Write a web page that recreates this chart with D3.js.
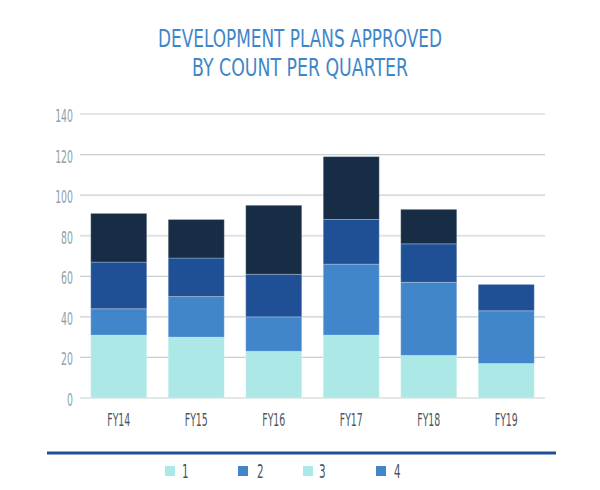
<!DOCTYPE html>
<html>
<head>
<meta charset="utf-8">
<script src="https://cdn.jsdelivr.net/npm/d3@7"></script>
<style>
  html, body { margin: 0; padding: 0; background: #ffffff; }
  svg { display: block; }
  text { font-family: "DejaVu Sans", "Roboto", sans-serif; }
</style>
</head>
<body>
<svg id="chart" width="600" height="490"></svg>
<script>
const titleLines = ["DEVELOPMENT PLANS APPROVED", "BY COUNT PER QUARTER"];
const categories = ["FY14", "FY15", "FY16", "FY17", "FY18", "FY19"];
const seriesNames = ["1", "2", "3", "4"];
const series1 = [31, 30, 23, 31, 21, 17];
const series2 = [13, 20, 17, 35, 36, 26];
const series3 = [23, 19, 21, 22, 19, 13];
const series4 = [24, 19, 34, 31, 17, 0];
const yTicks = [0, 20, 40, 60, 80, 100, 120, 140];
const barColors = ["#ace8e5", "#4186cb", "#1f5096", "#172d46"];
const legendColors = ["#ace8e5", "#4186cb", "#ace8e5", "#4186cb"];

const NARROW = "scale(0.52,1)";
const svg = d3.select("#chart");

// Title
svg.append("g").selectAll("text")
  .data(titleLines)
  .join("text")
  .attr("x", 300)
  .attr("y", (d, i) => 47 + i * 29)
  .attr("text-anchor", "middle")
  .attr("fill", "#3f86c9")
  .attr("font-size", 24)
  .attr("textLength", (d, i) => i === 0 ? 284 : 216)
  .attr("lengthAdjust", "spacingAndGlyphs")
  .text(d => d);

const x = d3.scaleBand().domain(categories).range([80, 545]).paddingInner(0.277).paddingOuter(0.1385);
const y = d3.scaleLinear().domain([0, 140]).range([398, 114]);

// Grid
svg.append("g").selectAll("line")
  .data(yTicks)
  .join("line")
  .attr("x1", 80).attr("x2", 545)
  .attr("y1", d => y(d)).attr("y2", d => y(d))
  .attr("stroke", d => d === 80 ? "#dfe3e6" : "#c6d0d0")
  .attr("stroke-width", d => d === 80 ? 2 : 1.2);

// Y axis labels
const yAxis = d3.axisLeft(y).tickValues(yTicks).tickSize(0).tickPadding(0);
const yg = svg.append("g").attr("transform", "translate(73,0)").call(yAxis);
yg.select(".domain").remove();
yg.selectAll("text")
  .attr("font-size", 18)
  .attr("fill", "#8ea2a6")
  .attr("dy", "0.42em")
  .attr("font-family", "'DejaVu Sans', sans-serif")
  .attr("transform", NARROW);

// Stacked data
const rows = categories.map((c, i) => ({cat: c, "1": series1[i], "2": series2[i], "3": series3[i], "4": series4[i]}));
const stack = d3.stack().keys(seriesNames)(rows);

svg.append("g").selectAll("g")
  .data(stack)
  .join("g")
  .attr("fill", (d, i) => barColors[i])
  .selectAll("rect")
  .data(d => d.filter(p => p[1] - p[0] > 0))
  .join("rect")
  .attr("x", d => x(d.data.cat))
  .attr("width", x.bandwidth())
  .attr("y", d => y(d[1]))
  .attr("height", d => y(d[0]) - y(d[1]))
  .attr("stroke", "rgba(255,255,255,0.25)")
  .attr("stroke-width", 1);

// X axis labels
const xAxis = d3.axisBottom(x).tickSize(0).tickPadding(0);
const xg = svg.append("g").attr("transform", "translate(0,426)").call(xAxis);
xg.select(".domain").remove();
xg.selectAll("text")
  .attr("font-size", 18)
  .attr("fill", "#4b5661")
  .attr("dy", 0)
  .attr("font-family", "'DejaVu Sans', sans-serif")
  .attr("transform", NARROW);

// Bottom rule
svg.append("line")
  .attr("x1", 47).attr("x2", 556)
  .attr("y1", 453).attr("y2", 453)
  .attr("stroke", "#1f5096").attr("stroke-width", 3);

// Legend
const legendSquareX = [165, 238, 303, 376];
const legendTextX = [182, 257, 319, 394];
const lg = svg.append("g").selectAll("g")
  .data(seriesNames)
  .join("g");
lg.append("rect")
  .attr("x", (d, i) => legendSquareX[i])
  .attr("y", 466)
  .attr("width", 10).attr("height", 10)
  .attr("fill", (d, i) => legendColors[i]);
lg.append("g")
  .attr("transform", (d, i) => `translate(${legendTextX[i]},478)`)
  .append("text")
  .attr("font-size", 20)
  .attr("fill", "#4b5661")
  .attr("transform", NARROW)
  .text(d => d);
</script>
</body>
</html>
